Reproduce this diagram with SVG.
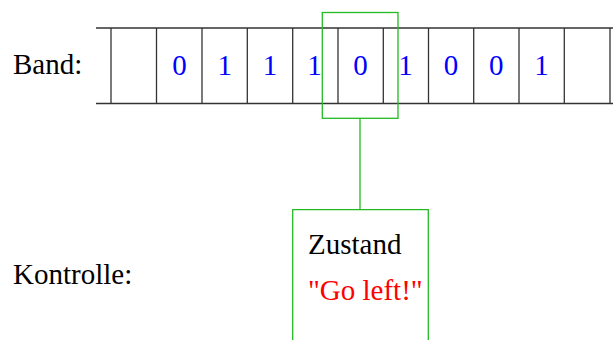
<svg xmlns="http://www.w3.org/2000/svg" width="613" height="340" viewBox="0 0 613 340">
<rect width="613" height="340" fill="#fff"/>
<g id="band-label"><text font-family="Liberation Serif" font-size="29" x="13" y="74">Band:</text></g>
<g id="kontrolle-label"><text font-family="Liberation Serif" font-size="29" x="13" y="284">Kontrolle:</text></g>
<g id="tape">
<g stroke="#333" stroke-width="1.3" fill="none">
<line x1="96" y1="28" x2="613" y2="28"/>
<line x1="96" y1="103.5" x2="613" y2="103.5"/>
<line x1="111" y1="28" x2="111" y2="103.5"/>
<line x1="156.5" y1="28" x2="156.5" y2="103.5"/>
<line x1="202" y1="28" x2="202" y2="103.5"/>
<line x1="247.3" y1="28" x2="247.3" y2="103.5"/>
<line x1="292.7" y1="28" x2="292.7" y2="103.5"/>
<line x1="338" y1="28" x2="338" y2="103.5"/>
<line x1="383.3" y1="28" x2="383.3" y2="103.5"/>
<line x1="428.5" y1="28" x2="428.5" y2="103.5"/>
<line x1="473.7" y1="28" x2="473.7" y2="103.5"/>
<line x1="519" y1="28" x2="519" y2="103.5"/>
<line x1="564.3" y1="28" x2="564.3" y2="103.5"/>
<line x1="610" y1="28" x2="610" y2="103.5"/>
</g>
<g font-family="Liberation Serif" font-size="29" fill="#0000ff" text-anchor="middle">
<text x="179.5" y="75">0</text>
<text x="224.7" y="75">1</text>
<text x="270" y="75">1</text>
<text x="314.5" y="75">1</text>
<text x="360.5" y="75">0</text>
<text x="405.5" y="75">1</text>
<text x="451" y="75">0</text>
<text x="496.3" y="75">0</text>
<text x="541.5" y="75">1</text>
</g>
</g>
<g id="head"><rect stroke="#22bb22" stroke-width="1.3" fill="none" x="322.3" y="12.5" width="75.7" height="105.8"/></g>
<g id="connectors"><line stroke="#22bb22" stroke-width="1.3" x1="360" y1="118.3" x2="360" y2="209.7"/></g>
<g id="kontrolle">
<path stroke="#22bb22" stroke-width="1.3" fill="none" d="M292.7 340 V209.7 H428.3 V340"/>
<text font-family="Liberation Serif" font-size="29" x="308" y="254">Zustand</text>
<text font-family="Liberation Serif" font-size="29" x="308" y="300" fill="#ff0000">"Go left!"</text>
</g>
</svg>
